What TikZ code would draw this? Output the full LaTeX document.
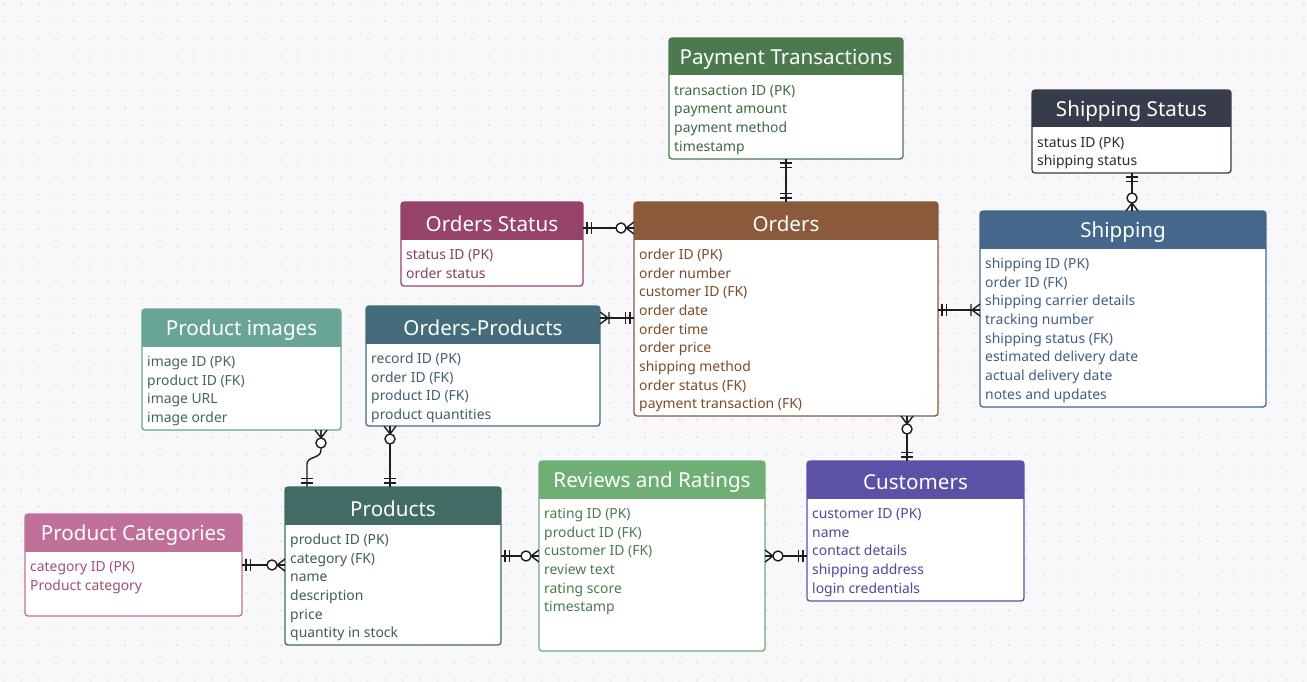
\documentclass[tikz,border=0pt]{standalone}
\usepackage{fontspec}
\setmainfont{Noto Sans}
\definecolor{bgc}{HTML}{F8F8FB}
\definecolor{dotc}{HTML}{DCDCE2}
\definecolor{linec}{HTML}{1E1E1E}
\definecolor{payH}{HTML}{4C7A4E}\definecolor{payT}{HTML}{3D6A40}
\definecolor{shsH}{HTML}{363C49}\definecolor{shsT}{HTML}{2A2A2A}
\definecolor{ostH}{HTML}{98446A}\definecolor{ostT}{HTML}{8A3E60}
\definecolor{ordH}{HTML}{8A5A3B}\definecolor{ordT}{HTML}{7A4A2C}
\definecolor{shpH}{HTML}{44678B}\definecolor{shpT}{HTML}{40607F}
\definecolor{pimH}{HTML}{68A596}\definecolor{pimT}{HTML}{436663}
\definecolor{oprH}{HTML}{456C7B}\definecolor{oprT}{HTML}{40606C}
\definecolor{prdH}{HTML}{416B64}\definecolor{prdT}{HTML}{3F5E58}
\definecolor{pctH}{HTML}{C06F98}\definecolor{pctT}{HTML}{A04F75}
\definecolor{rvwH}{HTML}{6FAE74}\definecolor{rvwT}{HTML}{4A7A4E}
\definecolor{cusH}{HTML}{5B51A6}\definecolor{cusT}{HTML}{4F479C}
\tikzset{
  ent/.style={fill=white, rounded corners=3pt, anchor=north west, inner sep=0pt, outer sep=0pt},
  ttl/.style={text=white, font=\fontsize{20.6}{24}\selectfont, inner sep=0pt},
  fld/.style={anchor=base west, font=\fontsize{13.9}{16}\selectfont, inner sep=0pt},
  conn/.style={draw=linec, line width=1.4pt},
  onlyone/.pic={\draw[conn] (4,-6)--(4,6) (8.5,-6)--(8.5,6);},
  zeromany/.pic={\draw[conn] (0,-6)--(8,0) (0,0)--(8,0) (0,6)--(8,0); \draw[conn, fill=white] (13,0) circle (5pt);},
  onemany/.pic={\draw[conn] (0,-6)--(8,0) (0,0)--(8,0) (0,6)--(8,0) (9,-6)--(9,6);},
}
\newcommand{\erent}[9]{%
  \node[ent, minimum width=#4pt, minimum height=#5pt] (#1) at (#2,#3) {};
  \begin{scope}
    \clip[rounded corners=3pt] (#1.north west) rectangle (#1.south east);
    \fill[#6] (#1.north west) rectangle ([yshift=-37.5pt]#1.north east);
  \end{scope}
  \draw[#6, line width=1.3pt, rounded corners=3pt] (#1.north west) rectangle (#1.south east);
  \node[ttl] at ([yshift=-21.5pt]#1.north) {#8};
  \foreach \t [count=\i from 0] in {#9}
    \node[fld, text=#7] at ([xshift=5pt, yshift={-57.3pt-18.7pt*\i}]#1.north west) {\t};
}
\begin{document}
\begin{tikzpicture}[x=1pt, y=-1pt]
\fill[bgc] (0,0) rectangle (1307,682);
\useasboundingbox (0,0) rectangle (1307,682);
\foreach \i in {0,...,75} \foreach \j in {0,...,39}
  \fill[dotc] (4+17.33*\i, 4+17.33*\j) circle (1.1pt);

\erent{pay}{669}{38}{234}{121}{payH}{payT}{Payment Transactions}{transaction ID (PK),payment amount,payment method,timestamp}
\erent{shs}{1032}{90}{199}{83}{shsH}{shsT}{Shipping Status}{status ID (PK),shipping status}
\erent{ost}{401}{202}{182}{84}{ostH}{ostT}{Orders Status}{status ID (PK),order status}
\erent{ord}{634}{202}{304}{214}{ordH}{ordT}{Orders}{order ID (PK),order number,customer ID (FK),order date,order time,order price,shipping method,order status (FK),payment transaction (FK)}
\erent{shp}{980}{211}{286}{196}{shpH}{shpT}{Shipping}{shipping ID (PK),order ID (FK),shipping carrier details,tracking number,shipping status (FK),estimated delivery date,actual delivery date,notes and updates}
\erent{pim}{142}{309}{199}{121}{pimH}{pimT}{Product images}{image ID (PK),product ID (FK),image URL,image order}
\erent{opr}{366}{306}{234}{120}{oprH}{oprT}{Orders-Products}{record ID (PK),order ID (FK),product ID (FK),product quantities}
\erent{prd}{285}{487}{216}{158}{prdH}{prdT}{Products}{product ID (PK),category (FK),name,description,price,quantity in stock}
\erent{pct}{25}{514}{217}{102}{pctH}{pctT}{Product Categories}{category ID (PK),Product category}
\erent{rvw}{539}{461}{226}{190}{rvwH}{rvwT}{Reviews and Ratings}{rating ID (PK),product ID (FK),customer ID (FK),review text,rating score,timestamp}
\erent{cus}{807}{461}{217}{140}{cusH}{cusT}{Customers}{customer ID (PK),name,contact details,shipping address,login credentials}

% 1 payment -> orders
\draw[conn] (pay.south) -- (ord.north);
\pic[rotate=270] at (pay.south) {onlyone};
\pic[rotate=90] at (ord.north) {onlyone};
% 2 orders status -> orders
\coordinate (a2) at ([yshift=-26pt]ost.north east);
\draw[conn] (a2) -- (a2 -| ord.west);
\pic at (a2) {onlyone};
\pic[rotate=180] at (a2 -| ord.west) {zeromany};
% 3 orders-products -> orders
\coordinate (a3) at ([yshift=-12pt]opr.north east);
\draw[conn] (a3) -- (a3 -| ord.west);
\pic at (a3) {onemany};
\pic[rotate=180] at (a3 -| ord.west) {onlyone};
% 4 orders -> shipping
\coordinate (a4) at ([yshift=-108pt]ord.north east);
\draw[conn] (a4) -- (a4 -| shp.west);
\pic at (a4) {onlyone};
\pic[rotate=180] at (a4 -| shp.west) {onemany};
% 5 shipping status -> shipping
\coordinate (a5) at ([xshift=100pt]shs.south west);
\draw[conn] (a5) -- (a5 |- shp.north);
\pic[rotate=270] at (a5) {onlyone};
\pic[rotate=90] at (a5 |- shp.north) {zeromany};
% 6 orders -> customers
\coordinate (a6) at ([xshift=273pt]ord.south west);
\draw[conn] (a6) -- (a6 |- cus.north);
\pic[rotate=270] at (a6) {zeromany};
\pic[rotate=90] at (a6 |- cus.north) {onlyone};
% 7 product images -> products
\coordinate (a7) at ([xshift=179pt]pim.south west);
\coordinate (b7) at ([xshift=22pt]prd.north west);
\draw[conn] (a7) -- ([yshift=-20pt]a7) .. controls ([yshift=-29pt]a7) and ([yshift=31pt]b7) .. ([yshift=23pt]b7) -- (b7);
\pic[rotate=270] at (a7) {zeromany};
\pic[rotate=90] at (b7) {onlyone};
% 8 orders-products -> products
\coordinate (a8) at ([xshift=24pt]opr.south west);
\draw[conn] (a8) -- (a8 |- prd.north);
\pic[rotate=270] at (a8) {zeromany};
\pic[rotate=90] at (a8 |- prd.north) {onlyone};
% 9 product categories -> products
\coordinate (a9) at ([yshift=-51pt]pct.north east);
\draw[conn] (a9) -- (a9 -| prd.west);
\pic at (a9) {onlyone};
\pic[rotate=180] at (a9 -| prd.west) {zeromany};
% 10 products -> reviews
\coordinate (a10) at ([yshift=-69pt]prd.north east);
\draw[conn] (a10) -- (a10 -| rvw.west);
\pic at (a10) {onlyone};
\pic[rotate=180] at (a10 -| rvw.west) {zeromany};
% 11 reviews -> customers
\coordinate (a11) at ([yshift=-95pt]rvw.north east);
\draw[conn] (a11) -- (a11 -| cus.west);
\pic at (a11) {zeromany};
\pic[rotate=180] at (a11 -| cus.west) {onlyone};
\end{tikzpicture}
\end{document}
